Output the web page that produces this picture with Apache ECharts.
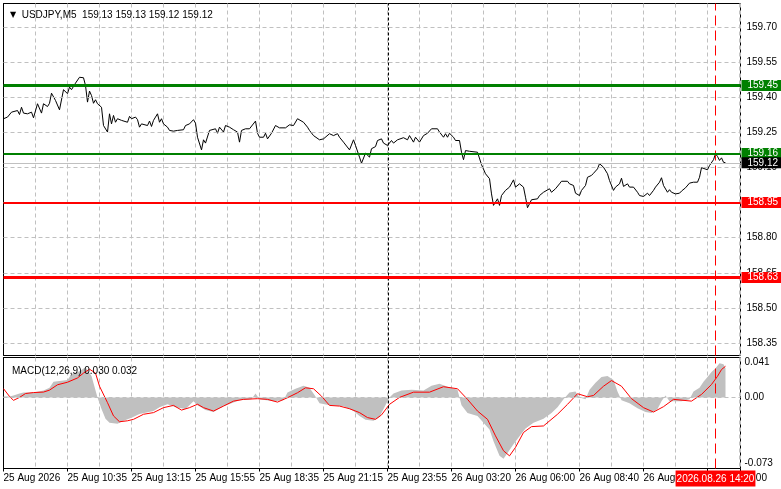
<!DOCTYPE html>
<html><head><meta charset="utf-8">
<script src="https://cdn.jsdelivr.net/npm/echarts@6/dist/echarts.min.js"></script>
<style>html,body{margin:0;padding:0;background:#fff}#c{width:781px;height:489px}</style>
</head><body><div id="c"></div>
<script>
const symbolInfo = 'USDJPY,M5';
const ohlcInfo = '159.13 159.13 159.12 159.12';
const macdInfo = 'MACD(12,26,9) 0.030 0.032';
const timeLabels = ['25 Aug 2026','25 Aug 10:35','25 Aug 13:15','25 Aug 15:55','25 Aug 18:35','25 Aug 21:15','25 Aug 23:55','26 Aug 03:20','26 Aug 06:00','26 Aug 08:40','26 Aug 11:20','26 Aug 14:00'];
const labelBars = [0,32,64,96,128,160,192,224,256,288,320,352];
const priceTicks = [158.35,158.50,158.65,158.80,158.95,159.10,159.25,159.40,159.55,159.70];
const greenLevels = [159.45,159.16];
const redLevels = [158.95,158.63];
const bidPrice = 159.12;
const daySeparatorBar = 192.5;
const cursorBar = 356;
const cursorLabel = '2026.08.26 14:20';
const macdTicks = [-0.073,0,0.041];

const priceBar = [0,2,4,5,7,8,9,10,11,12,14,15,17,19,20,22,23,24,26,27,28,30,32,33,34,36,37,38,40,41,42,43,44,45,46,47,49,50,52,53,54,55,56,57,59,60,62,63,64,66,67,68,69,70,72,73,74,75,76,77,78,79,80,82,83,85,87,88,90,91,93,95,96,97,99,100,101,103,104,106,107,108,110,111,112,113,115,117,118,119,121,123,124,126,127,128,130,131,132,134,135,136,138,141,143,144,145,147,148,150,152,153,155,156,158,160,161,163,164,165,167,168,170,171,173,175,176,178,179,181,183,184,186,187,189,190,192,193,194,195,197,198,200,202,203,205,206,208,210,212,214,215,217,218,220,221,222,223,225,226,228,229,230,231,233,234,237,238,239,241,243,244,245,246,247,248,249,251,252,253,255,256,258,260,261,262,264,265,267,268,270,271,273,274,276,278,279,282,283,285,286,288,289,291,292,294,295,297,298,300,302,303,305,306,308,309,310,312,313,315,317,318,320,322,323,325,326,328,329,330,332,333,334,336,338,339,341,343,345,347,348,349,350,352,353,354,355,356,357,358,359,360,361];
const priceClose = [159.308,159.315,159.336,159.329,159.343,159.326,159.357,159.332,159.340,159.329,159.336,159.312,159.372,159.332,159.372,159.360,159.374,159.417,159.386,159.389,159.346,159.432,159.415,159.443,159.432,159.460,159.457,159.485,159.483,159.450,159.379,159.426,159.407,159.374,159.389,159.372,159.357,159.279,159.251,159.329,159.286,159.322,159.293,159.308,159.301,159.308,159.293,159.318,159.308,159.315,159.304,159.272,159.286,159.289,159.279,159.298,159.275,159.301,159.315,159.329,159.293,159.308,159.286,159.272,159.258,159.255,159.258,159.261,159.261,159.279,159.286,159.304,159.289,159.229,159.175,159.218,159.204,159.258,159.251,159.265,159.246,159.272,159.251,159.279,159.286,159.272,159.261,159.251,159.208,159.258,159.265,159.265,159.268,159.298,159.246,159.229,159.229,159.246,159.222,159.246,159.244,159.279,159.269,159.269,159.282,159.286,159.279,159.308,159.304,159.293,159.272,159.258,159.236,159.244,159.218,159.222,159.229,159.244,159.251,159.236,159.244,159.229,159.208,159.215,159.175,159.218,159.194,159.144,159.118,159.161,159.144,159.180,159.189,159.215,159.222,159.204,159.194,159.189,159.215,159.204,159.218,159.212,159.227,159.218,159.236,159.208,159.229,159.208,159.236,159.246,159.265,159.258,159.265,159.251,159.229,159.244,159.229,159.246,159.229,159.215,159.215,159.165,159.133,159.172,159.169,159.172,159.165,159.161,159.112,159.073,159.052,158.987,158.938,158.938,158.966,158.938,158.980,159.002,158.994,159.016,159.047,159.016,159.030,159.016,158.973,158.928,158.962,158.956,158.966,158.980,158.994,158.990,159.009,158.994,159.009,159.030,159.041,159.041,159.030,159.023,158.990,158.980,159.002,159.023,159.058,159.066,159.075,159.094,159.116,159.101,159.073,159.044,159.002,159.016,159.030,159.054,159.019,159.030,159.016,159.016,158.994,158.980,158.976,158.990,158.980,159.002,159.016,159.037,159.056,159.023,158.994,159.005,158.994,158.987,158.990,158.999,159.013,159.033,159.037,159.037,159.058,159.099,159.101,159.090,159.108,159.116,159.133,159.158,159.147,159.130,159.141,159.122,159.120];

const histBar = [0,3,5,8,10,15,20,23,25,32,34,38,41,44,47,49,51,53,57,60,64,68,75,78,82,86,91,95,97,101,105,110,114,118,124,126,128,135,140,142,146,150,153,156,158,163,170,175,178,181,185,188,190,192,193,195,199,204,210,214,218,222,227,229,232,237,240,243,245,248,250,252,255,258,261,265,270,274,277,280,283,286,288,291,293,296,299,302,305,307,309,313,317,321,324,327,329,331,333,339,343,345,348,350,352,354,356,358,359,360,361];
const histValue = [0.001,0.001,0.002,0.004,0.005,0.005,0.007,0.010,0.016,0.018,0.024,0.027,0.031,0.022,0.000,-0.012,-0.022,-0.026,-0.027,-0.024,-0.021,-0.017,-0.014,-0.010,-0.007,-0.010,-0.012,-0.004,-0.008,-0.013,-0.015,-0.009,-0.006,-0.003,-0.002,0.004,-0.002,-0.004,-0.003,0.005,0.009,0.012,0.010,0.001,-0.006,-0.008,-0.009,-0.014,-0.019,-0.023,-0.024,-0.020,-0.012,-0.004,0.000,0.004,0.007,0.008,0.007,0.012,0.014,0.011,0.008,-0.008,-0.016,-0.019,-0.026,-0.033,-0.045,-0.060,-0.063,-0.057,-0.048,-0.040,-0.032,-0.026,-0.022,-0.016,-0.010,-0.002,0.005,0.006,0.000,-0.002,0.008,0.015,0.021,0.022,0.018,0.006,-0.003,-0.006,-0.011,-0.015,-0.016,-0.012,-0.004,0.002,-0.004,-0.004,-0.002,0.006,0.010,0.016,0.021,0.026,0.030,0.035,0.036,0.034,0.030];

const signalBar = [0,3,5,8,11,15,20,23,27,32,37,40,43,46,48,52,55,58,62,65,70,75,80,85,89,93,97,100,105,110,115,120,127,132,137,142,147,151,155,159,163,168,173,178,182,186,189,193,198,205,213,220,227,232,237,242,246,250,253,256,260,264,270,277,282,287,292,295,300,304,309,314,320,325,330,335,344,349,354,357,359,361];
const signalValue = [0.009,0.001,-0.003,0.000,0.004,0.005,0.0055,0.0075,0.013,0.0156,0.020,0.025,0.029,0.025,0.0115,-0.0054,-0.019,-0.025,-0.024,-0.0225,-0.0173,-0.0156,-0.0105,-0.0082,-0.013,-0.0105,-0.007,-0.0105,-0.014,-0.0089,-0.0038,-0.002,-0.0013,-0.002,-0.0048,-0.0003,0.0048,0.0099,0.0089,0.0013,-0.0082,-0.0089,-0.0116,-0.0156,-0.0207,-0.0225,-0.018,-0.0071,0.000,0.0054,0.0054,0.011,0.0089,-0.002,-0.014,-0.0225,-0.0395,-0.0548,-0.060,-0.0513,-0.036,-0.030,-0.0293,-0.0173,-0.0071,0.0038,0.0007,0.002,0.0115,0.0173,0.0115,-0.0013,-0.0105,-0.015,-0.0095,-0.002,-0.0038,0.0031,0.0133,0.0217,0.0286,0.032];

const FONT = '"Liberation Sans", Arial, sans-serif';
const FS = 10;
const zip = (a, b) => a.map((v, i) => [v, b[i]]);
const chart = echarts.init(document.getElementById('c'), null, {renderer: 'canvas'});

const tagLabel = (text, bg) => ({show: true, position: 'end', distance: 1, formatter: text, color: '#fff',
  backgroundColor: bg, padding: [1, 4, 0, 6], lineHeight: 10, fontSize: FS, fontFamily: FONT});
const levelLine = (v, color, width) => ({
  yAxis: v,
  lineStyle: {color: color, width: width, type: 'solid'},
  label: tagLabel(v.toFixed(2), color)
});

const X_MAX = 368.5;
const option = {
  animation: false,
  backgroundColor: '#fff',
  textStyle: {fontFamily: FONT},
  title: [
    {text: '{tri|▼}  ' + symbolInfo + '  ' + ohlcInfo, left: 5, top: 5,
     textStyle: {fontSize: FS, fontWeight: 'normal', color: '#000', fontFamily: FONT,
       rich: {tri: {fontSize: 8, color: '#000', fontFamily: '"DejaVu Sans"'}}}},
    {text: macdInfo, left: 7, top: 361,
     textStyle: {fontSize: FS, fontWeight: 'normal', color: '#000', fontFamily: FONT}}
  ],
  grid: [
    {left: 3.5, top: 3.5, width: 737, height: 352, show: true, borderColor: '#000', borderWidth: 1, backgroundColor: 'transparent'},
    {left: 3.5, top: 357.5, width: 737, height: 111, show: true, borderColor: '#000', borderWidth: 1, backgroundColor: 'transparent'}
  ],
  xAxis: [
    {type: 'value', gridIndex: 0, min: 0, max: X_MAX, interval: 16,
     axisLine: {show: false}, axisTick: {show: false}, axisLabel: {show: false},
     splitLine: {show: true, lineStyle: {color: '#c0c0c0', type: [4, 3], width: 1}}},
    {type: 'value', gridIndex: 1, min: 0, max: X_MAX, interval: 16,
     axisLine: {show: false}, axisTick: {show: false}, axisLabel: {show: false},
     splitLine: {show: true, lineStyle: {color: '#c0c0c0', type: [4, 3], width: 1}}},
    {type: 'value', gridIndex: 1, min: 0, max: X_MAX, interval: 32, position: 'bottom',
     axisLine: {show: false},
     axisTick: {show: true, length: 3, lineStyle: {color: '#000'}},
     axisLabel: {show: true, align: 'left', margin: 5, fontSize: FS, color: '#000', fontFamily: FONT,
       formatter: v => { const k = labelBars.indexOf(v); return k < 0 ? '' : timeLabels[k]; }},
     splitLine: {show: false}}
  ],
  yAxis: [
    {type: 'value', gridIndex: 0, position: 'right', min: 158.297, max: 159.80,
     axisLine: {show: true, lineStyle: {color: '#000'}},
     axisTick: {show: true, length: 3, customValues: priceTicks, lineStyle: {color: '#000'}},
     axisLabel: {show: true, customValues: priceTicks, margin: 6, fontSize: FS, color: '#000', fontFamily: FONT,
       formatter: v => v.toFixed(2)},
     splitLine: {show: false}},
    {type: 'value', gridIndex: 1, position: 'right', min: -0.073, max: 0.041,
     axisLine: {show: true, lineStyle: {color: '#000'}},
     axisTick: {show: true, length: 3, customValues: macdTicks, lineStyle: {color: '#000'}},
     axisLabel: {show: true, customValues: macdTicks, margin: 4, fontSize: FS, color: '#000', fontFamily: FONT,
       verticalAlignMaxLabel: 'top', verticalAlignMinLabel: 'bottom',
       formatter: v => v === 0 ? '0.00' : v.toFixed(3)},
     splitLine: {show: false}}
  ],
  series: [
    {name: 'priceGrid', type: 'line', xAxisIndex: 0, yAxisIndex: 0, data: [], z: 1, silent: true,
     markLine: {silent: true, symbol: ['none', 'none'], label: {show: false},
       lineStyle: {color: '#c0c0c0', type: [4, 3], width: 1},
       data: priceTicks.map(v => ({yAxis: v}))}},
    {name: 'levels', type: 'line', xAxisIndex: 0, yAxisIndex: 0, data: [], z: 2, silent: true,
     markLine: {silent: true, symbol: ['none', 'none'],
       data: [
         {xAxis: daySeparatorBar, lineStyle: {color: '#000', type: [3, 2], width: 1}, label: {show: false}},
         {xAxis: cursorBar, lineStyle: {color: '#ff0000', type: [10, 5], width: 1}, label: {show: false}},
         {yAxis: bidPrice, lineStyle: {color: '#c0c0c0', type: 'solid', width: 1}, label: {show: false}}
       ]}},
    {name: 'price', type: 'line', xAxisIndex: 0, yAxisIndex: 0, data: zip(priceBar, priceClose),
     symbol: 'none', z: 3, lineStyle: {color: '#000', width: 1}},
    {name: 'levelTags', type: 'line', xAxisIndex: 0, yAxisIndex: 0, data: [], z: 4, silent: true,
     markLine: {silent: true, symbol: ['none', 'none'],
       data: [
         levelLine(greenLevels[0], '#008000', 3),
         levelLine(greenLevels[1], '#008000', 2),
         levelLine(redLevels[0], '#ff0000', 2),
         levelLine(redLevels[1], '#ff0000', 3),
         [{coord: [X_MAX - 0.5, bidPrice], lineStyle: {color: '#c0c0c0', width: 1, type: 'solid'},
           label: tagLabel(bidPrice.toFixed(2), '#000')},
          {coord: [X_MAX, bidPrice]}]
       ]}},
    {name: 'macdGrid', type: 'line', xAxisIndex: 1, yAxisIndex: 1, data: [], z: 1, silent: true,
     markLine: {silent: true, symbol: ['none', 'none'],
       data: [
         {yAxis: 0, lineStyle: {color: '#c0c0c0', type: [4, 3], width: 1}, label: {show: false}}
       ]}},
    {name: 'hist', type: 'line', xAxisIndex: 1, yAxisIndex: 1, data: zip(histBar, histValue),
     symbol: 'none', z: 2, lineStyle: {width: 0}, areaStyle: {color: '#c0c0c0', opacity: 1}},
    {name: 'signal', type: 'line', xAxisIndex: 1, yAxisIndex: 1, data: zip(signalBar, signalValue),
     symbol: 'none', z: 3, lineStyle: {color: '#ff0000', width: 1}},
    {name: 'macdMarks', type: 'line', xAxisIndex: 1, yAxisIndex: 1, data: [], z: 5, silent: true,
     markLine: {silent: true, symbol: ['none', 'none'],
       data: [
         {xAxis: daySeparatorBar, lineStyle: {color: '#000', type: [3, 2], width: 1}, label: {show: false}},
         {xAxis: cursorBar, lineStyle: {color: '#ff0000', type: [10, 5], width: 1},
          label: {show: true, position: 'start', distance: 2, formatter: cursorLabel, color: '#fff',
            backgroundColor: '#ff0000', padding: [3, 1, 2, 1], lineHeight: 11, fontSize: FS, fontFamily: FONT}}
       ]}}
  ]
};
chart.setOption(option);
</script>
</body></html>
